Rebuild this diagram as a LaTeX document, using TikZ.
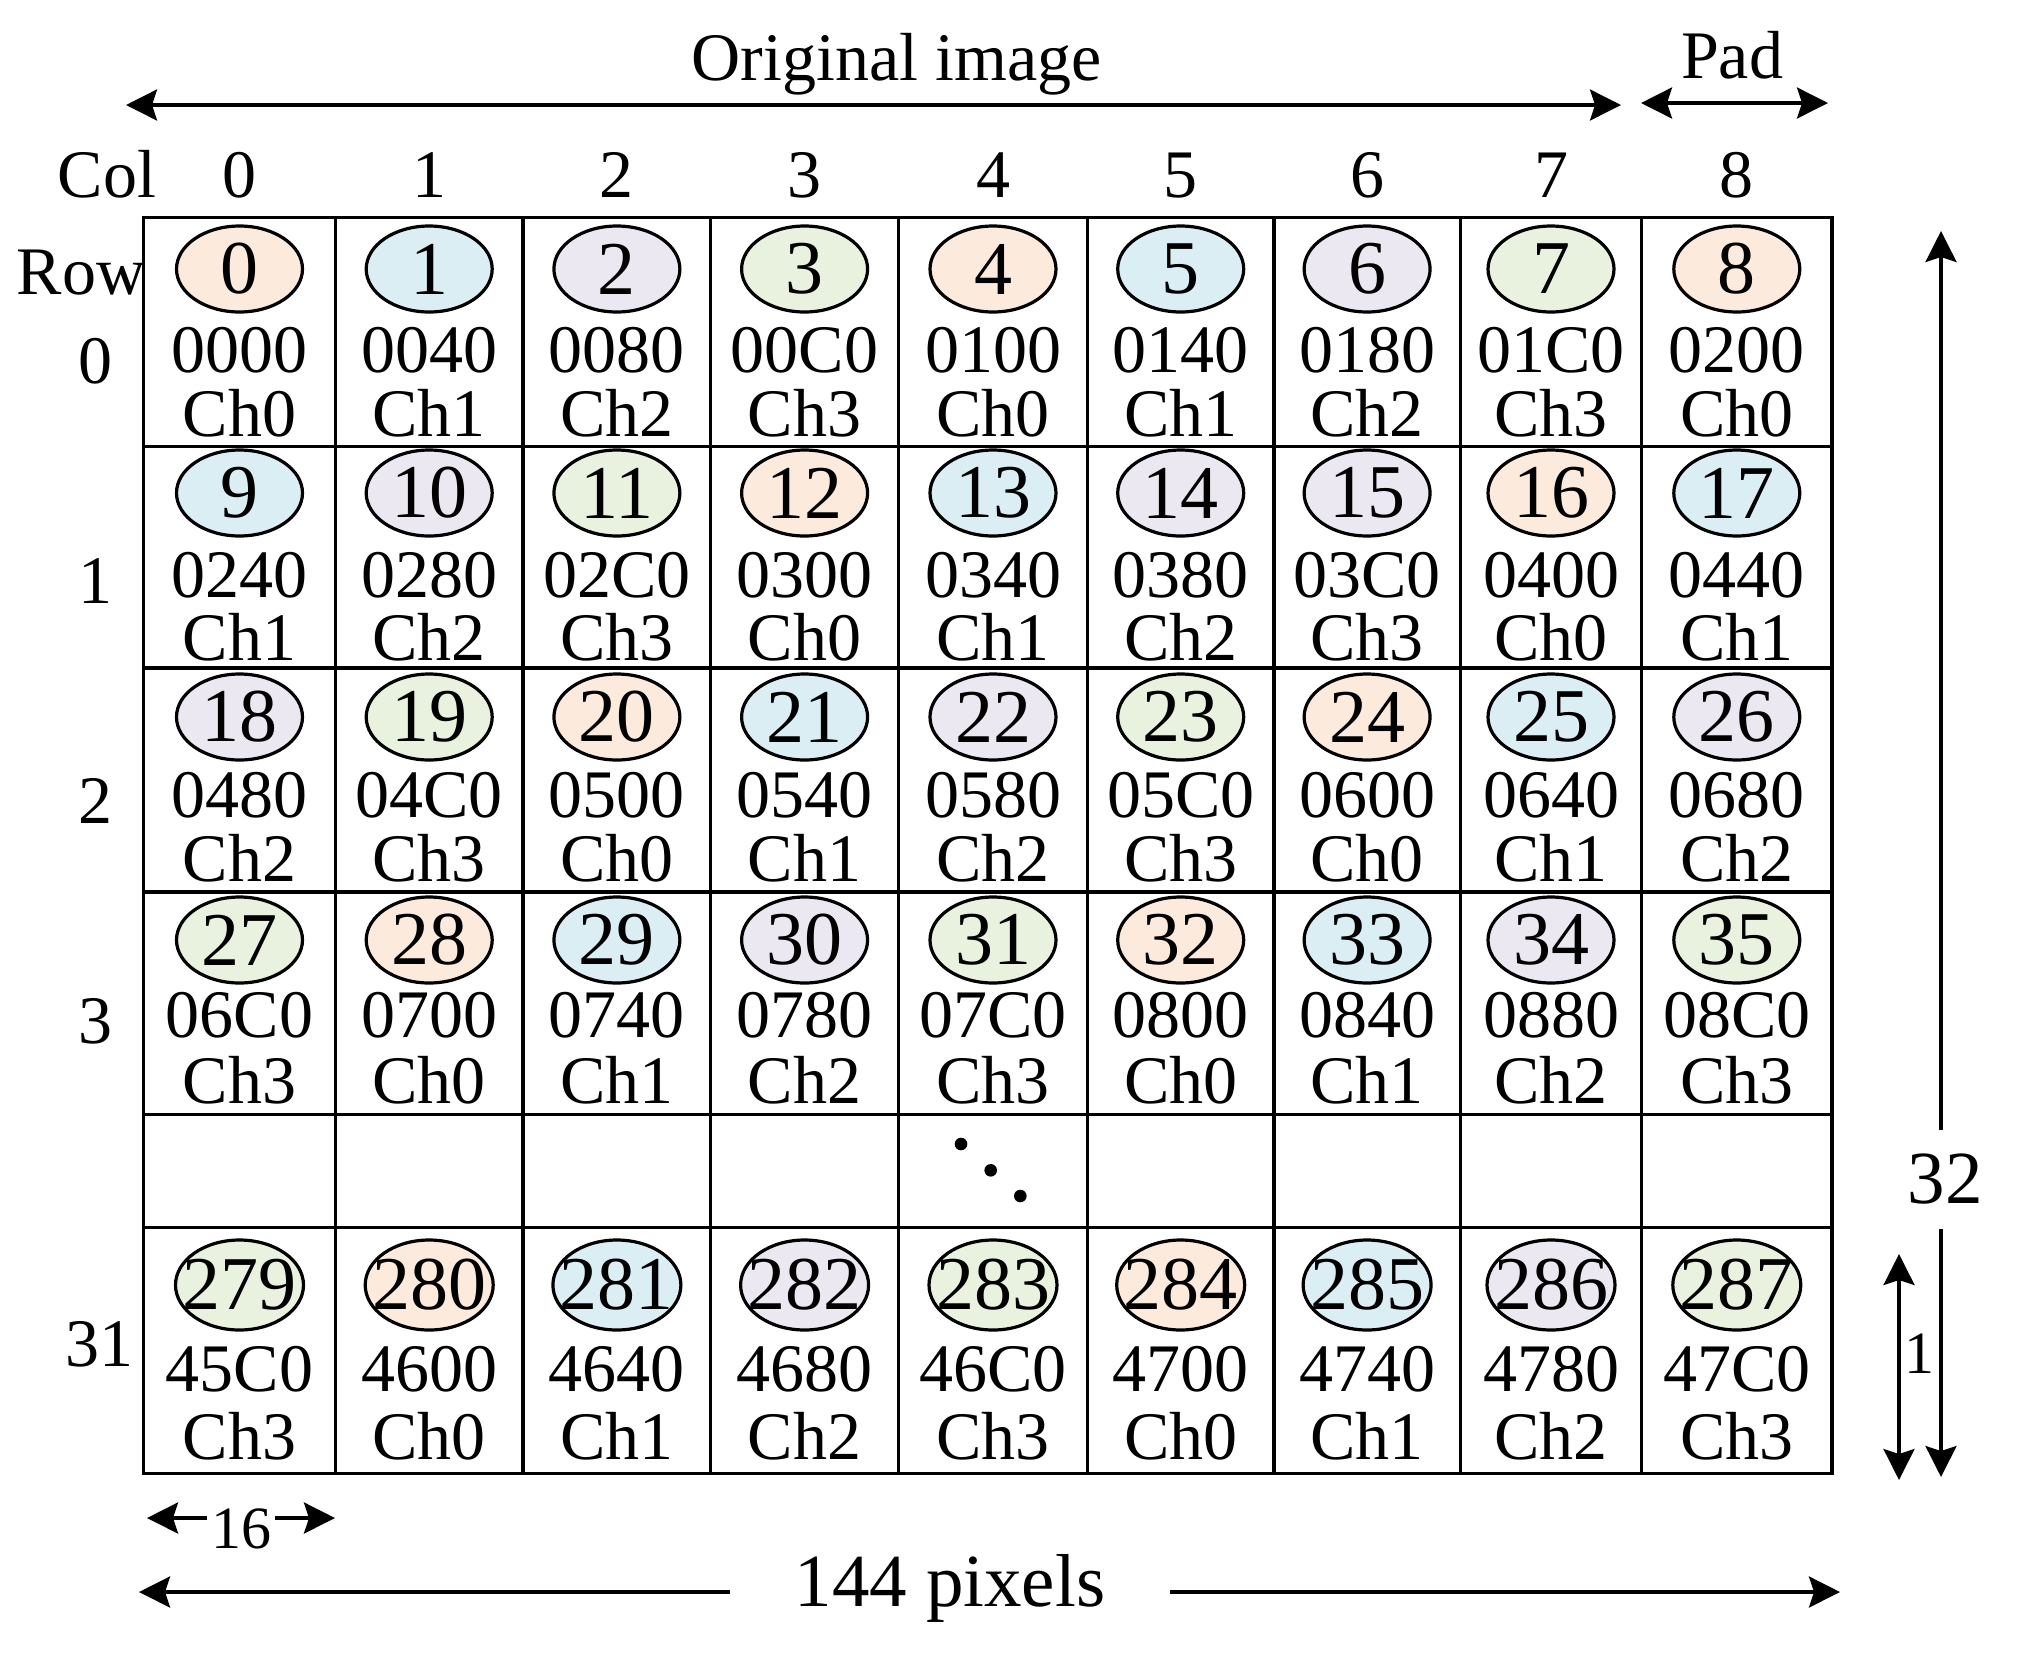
\documentclass[tikz,border=0pt]{standalone}
\usepackage{fontspec}
\setmainfont{Liberation Serif}
\usetikzlibrary{arrows.meta,shapes.geometric}
\definecolor{ch0}{HTML}{FCEADC}
\definecolor{ch1}{HTML}{DBEEF4}
\definecolor{ch2}{HTML}{EBE8F1}
\definecolor{ch3}{HTML}{E9F1DF}
\newcommand\mkrow[6]{% #1 id, #2 ellipse y, #3 hex baseline, #4 ch baseline, #5 ellipse style, #6 list
  \foreach \c/\x/\n/\h/\f in {#6} {
    \pgfmathtruncatemacro\chn{mod(\n,4)}
    \node[#5, fill=ch\f] (e-#1-\c) at (\x,#2) {\makebox[0pt]{\n}};
    \node[txt] (h-#1-\c) at (\x,#3) {\h};
    \node[txt] (c-#1-\c) at (\x,#4) {Ch\chn};
  }}
\begin{document}
\begin{tikzpicture}[x=0.5pt,y=-0.5pt,
  gridline/.style={line width=1.75pt},
  ell/.style={ellipse, draw, line width=1.6pt, minimum width=63pt, minimum height=43pt, inner sep=0pt, font=\fontsize{38}{38}\selectfont},
  ellbig/.style={ell, minimum width=64pt, minimum height=45pt},
  txt/.style={inner sep=0pt, anchor=base, font=\fontsize{34}{34}\selectfont},
  bigtxt/.style={inner sep=0pt, anchor=base, font=\fontsize{37.5}{37.5}\selectfont},
  smalltxt/.style={inner sep=0pt, anchor=base, font=\fontsize{30}{30}\selectfont},
  arr/.style={line width=1.7pt, {Stealth[length=15.5pt,width=15.5pt,inset=2.5pt]}-{Stealth[length=15.5pt,width=15.5pt,inset=2.5pt]}},
  arrone/.style={line width=1.7pt, -{Stealth[length=15.5pt,width=15.5pt,inset=2.5pt]}}]
\useasboundingbox (0,0) rectangle (2030,1656);
% grid
\draw[gridline] (143.7,217.5) rectangle (1831.9,1473.3);
\foreach \gx in {335.3,523.0,710.7,898.4,1087.5,1273.9,1460.3,1641.6}
  \draw[gridline] (\gx,217.5) -- (\gx,1473.3);
\foreach \gy in {446.6,668.0,892.0,1114.7,1227.3}
  \draw[gridline] (143.7,\gy) -- (1831.9,\gy);
% cells
\mkrow{0}{269}{372}{436}{ell}{0/239.5/0/0000/0, 1/429.2/1/0040/1, 2/616.9/2/0080/2, 3/804.6/3/00C0/3, 4/993/4/0100/0, 5/1180.7/5/0140/1, 6/1367.1/6/0180/2, 7/1551/7/01C0/3, 8/1736.8/8/0200/0}
\mkrow{1}{493}{597}{660}{ell}{0/239.5/9/0240/1, 1/429.2/10/0280/2, 2/616.9/11/02C0/3, 3/804.6/12/0300/0, 4/993/13/0340/1, 5/1180.7/14/0380/2, 6/1367.1/15/03C0/2, 7/1551/16/0400/0, 8/1736.8/17/0440/1}
\mkrow{2}{717}{817}{881}{ell}{0/239.5/18/0480/2, 1/429.2/19/04C0/3, 2/616.9/20/0500/0, 3/804.6/21/0540/1, 4/993/22/0580/2, 5/1180.7/23/05C0/3, 6/1367.1/24/0600/0, 7/1551/25/0640/1, 8/1736.8/26/0680/2}
\mkrow{3}{940}{1037}{1103}{ell}{0/239.5/27/06C0/3, 1/429.2/28/0700/0, 2/616.9/29/0740/1, 3/804.6/30/0780/2, 4/993/31/07C0/3, 5/1180.7/32/0800/0, 6/1367.1/33/0840/1, 7/1551/34/0880/2, 8/1736.8/35/08C0/3}
\mkrow{31}{1285}{1391}{1459}{ellbig}{0/239.5/279/45C0/3, 1/429.2/280/4600/0, 2/616.9/281/4640/1, 3/804.6/282/4680/2, 4/993/283/46C0/3, 5/1180.7/284/4700/0, 6/1367.1/285/4740/1, 7/1551/286/4780/2, 8/1736.8/287/47C0/3}
% dots
\fill (961,1144) circle[radius=6.3];
\fill (990.7,1170.3) circle[radius=6.3];
\fill (1020.3,1196) circle[radius=6.3];
% column labels
\node[txt] (colhead) at (107,197) {Col};
\foreach \c/\x in {0/239.5,1/429.2,2/616.9,3/804.6,4/993,5/1180.7,6/1367.1,7/1551,8/1736.8}
  \node[txt] (col-\c) at (\x,197) {\c};
% row labels
\node[txt] (rowhead) at (81,294) {Row};
\node[txt] (row-0) at (95.5,383) {0};
\node[txt] (row-1) at (95.5,603) {1};
\node[txt] (row-2) at (95.5,823) {2};
\node[txt] (row-3) at (95.5,1043) {3};
\node[txt] (row-31) at (99,1366) {31};
% top arrows
\node[txt] (orig) at (896.5,80) {Original image};
\coordinate (oL) at (126,105);
\coordinate (oR) at (1621,105);
\draw[arr] (oL) -- (oR);
\node[txt] (pad) at (1732,78) {Pad};
\coordinate (pL) at (1641,103);
\coordinate (pR) at (1828,103);
\draw[arr] (pL) -- (pR);
% right arrows
\node[bigtxt, inner ysep=12pt] (n32) at (1945,1203.6) {32};
\coordinate (t32) at (1941,231);
\coordinate (b32) at (1941,1477);
\draw[arrone] (n32.north -| t32) -- (t32);
\draw[arrone] (n32.south -| b32) -- (b32);
\coordinate (t1) at (1899,1254);
\coordinate (b1) at (1899,1480);
\draw[arr] (t1) -- (b1);
\node[smalltxt] (n1) at (1919,1373) {1};
% bottom arrows
\node[smalltxt, inner xsep=2pt] (n16) at (241,1548) {16};
\coordinate (l16) at (147,1518);
\coordinate (r16) at (335,1518);
\draw[arrone] (n16.west |- l16) -- (l16);
\draw[arrone] (n16.east |- r16) -- (r16);
\node[bigtxt, inner xsep=32pt] (n144) at (950,1606.6) {144 pixels};
\coordinate (l144) at (139,1592);
\coordinate (r144) at (1840,1592);
\draw[arrone] (n144.west |- l144) -- (l144);
\draw[arrone] (n144.east |- r144) -- (r144);
\end{tikzpicture}
\end{document}
